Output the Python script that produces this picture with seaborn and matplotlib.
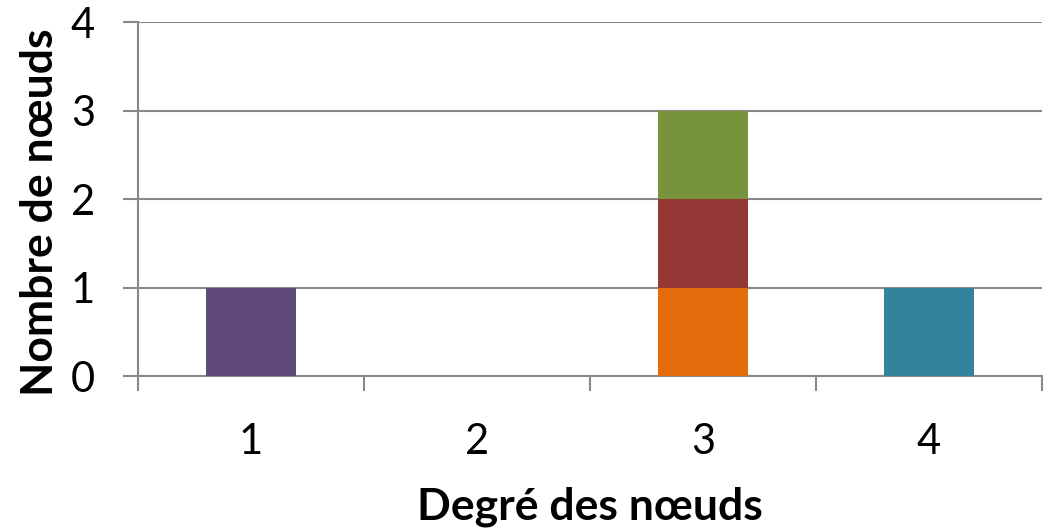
import matplotlib
matplotlib.use("Agg")
import matplotlib.pyplot as plt
from matplotlib.ticker import FixedLocator
import pandas as pd
import seaborn as sns

# One entry per node: its name and its degree
noeuds = ["A", "B", "C", "D", "E"]
degres = [1, 3, 3, 3, 4]
couleurs = ["#604A7B", "#E46C0A", "#953735", "#77933C", "#31849B"]

categories = [1, 2, 3, 4]
y_ticks = [0, 1, 2, 3, 4]

df = pd.DataFrame({"noeud": noeuds, "degre": degres})

sns.set_theme(style="white")
plt.rcParams["font.family"] = ["Lato", "DejaVu Sans"]

fig = plt.figure(figsize=(10.48, 5.29), dpi=100)
ax = fig.add_axes([0.1317, 0.2892, 0.8626, 0.6692])

grid_col = "#888888"

sns.histplot(
    data=df, x="degre", hue="noeud",
    hue_order=noeuds[::-1],
    palette=dict(zip(noeuds, couleurs)),
    discrete=True, multiple="stack", shrink=0.4,
    alpha=1, linewidth=0, legend=False, ax=ax, zorder=3,
)

ax.set_xlim(categories[0] - 0.5, categories[-1] + 0.5)
ax.set_ylim(y_ticks[0], y_ticks[-1])
ax.set_yticks(y_ticks)
ax.set_xticks(categories)
ax.set_xticklabels([str(c) for c in categories])
ax.xaxis.set_minor_locator(FixedLocator([c - 0.5 for c in categories] + [categories[-1] + 0.5]))

ax.yaxis.grid(True, color=grid_col, linewidth=1.5, zorder=0)
ax.set_axisbelow(True)
for side in ("top", "right"):
    ax.spines[side].set_visible(False)
for side in ("left", "bottom"):
    ax.spines[side].set_color(grid_col)
    ax.spines[side].set_linewidth(1.5)

ax.tick_params(axis="y", which="major", direction="out", length=11, width=1.5,
               color=grid_col, left=True, labelsize=30, pad=20, labelcolor="black")
ax.tick_params(axis="x", which="major", length=0, labelsize=30, pad=34, labelcolor="black")
ax.tick_params(axis="x", which="minor", direction="out", length=11, width=1.5,
               color=grid_col, bottom=True)

ax.set_xlabel("Degré des nœuds", fontsize=32, fontweight="bold", color="black", labelpad=18)
ax.set_ylabel("Nombre de nœuds", fontsize=32, fontweight="bold", color="black")
ax.yaxis.set_label_coords(-0.086, 0.463)

fig.savefig("out.png", dpi=100, facecolor="white")
